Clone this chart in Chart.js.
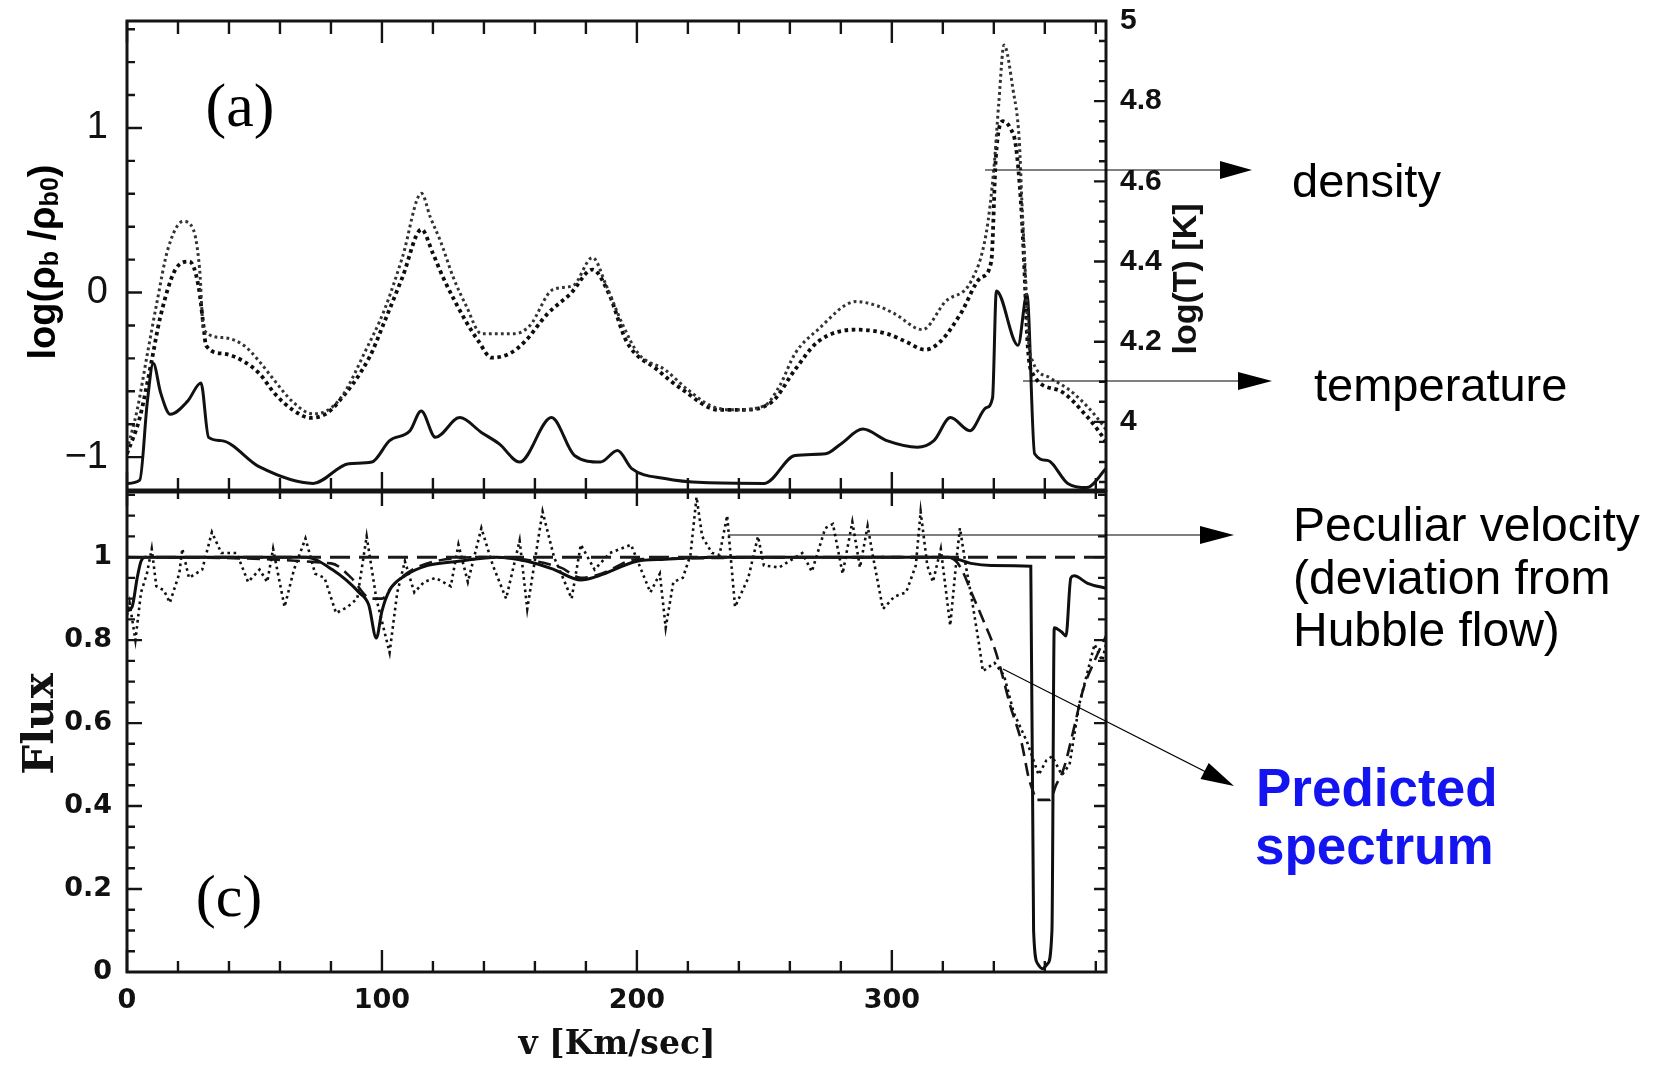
<!DOCTYPE html>
<html><head><meta charset="utf-8">
<script src="https://cdn.jsdelivr.net/npm/chart.js@4.4.1/dist/chart.umd.min.js"></script>
<style>
html,body{margin:0;padding:0;background:#fff;}
#wrap{position:relative;width:1663px;height:1065px;overflow:hidden;background:#fff;}
canvas{position:absolute;left:0;top:0;}
svg{position:absolute;left:0;top:0;}
</style></head><body>
<div id="wrap">
<canvas id="cBot" width="1663" height="1065"></canvas>
<canvas id="cTop" width="1663" height="500"></canvas>
<svg width="1663" height="1065" viewBox="0 0 1663 1065">
  <g stroke="#000" stroke-width="1.2" fill="none">
    <line x1="985" y1="170" x2="1222" y2="170"/>
    <line x1="1023" y1="381" x2="1240" y2="381"/>
    <line x1="728" y1="535" x2="1202" y2="535"/>
    <line x1="1003" y1="669" x2="1206" y2="772"/>
  </g>
  <g fill="#000">
    <polygon points="1252,170 1220,161 1220,179"/>
    <polygon points="1272,381 1238,372 1238,390"/>
    <polygon points="1234,535 1200,526 1200,544"/>
    <polygon points="1234,786 1200.5,779 1208.7,763"/>
  </g>
  <g font-family="Liberation Sans, Arial, sans-serif" fill="#000">
    <text x="1292" y="197" font-size="47">density</text>
    <text x="1314" y="401" font-size="47">temperature</text>
    <text x="1293" y="541" font-size="48">Peculiar velocity</text>
    <text x="1293" y="594" font-size="48">(deviation from</text>
    <text x="1293" y="646" font-size="48">Hubble flow)</text>
    <text x="1256" y="806" font-size="53" font-weight="bold" fill="#1414f0">Predicted</text>
    <text x="1255" y="864" font-size="53" font-weight="bold" fill="#1414f0">spectrum</text>
  </g>
  <g font-family="Liberation Serif, Times New Roman, serif" fill="#000">
    <text x="240" y="105" font-size="62" text-anchor="middle" dominant-baseline="central">(a)</text>
    <text x="229" y="896" font-size="60" text-anchor="middle" dominant-baseline="central">(c)</text>
  </g>
  <text transform="translate(42,262) rotate(-90)" text-anchor="middle" dominant-baseline="central" font-family="Liberation Sans, Arial, sans-serif" font-weight="bold" font-size="38" fill="#000">log(ρ<tspan font-size="25" dy="7">b</tspan><tspan dy="-7"> /ρ</tspan><tspan font-size="25" dy="7">b0</tspan><tspan dy="-7">)</tspan></text>
  <text transform="translate(1184,279) rotate(-90)" text-anchor="middle" dominant-baseline="central" font-family="Liberation Sans, Arial, sans-serif" font-weight="bold" font-size="34" fill="#111">log(T) [K]</text>
  <text transform="translate(38,724) rotate(-90)" text-anchor="middle" dominant-baseline="central" font-family="DejaVu Serif, serif" font-weight="bold" font-size="42" fill="#111">Flux</text>
  <text x="617" y="1042" text-anchor="middle" dominant-baseline="central" font-family="DejaVu Serif, serif" font-weight="bold" font-size="33" fill="#111">v [Km/sec]</text>
</svg>
</div>
<script>
// ---------------- DATA ----------------
// x axis: velocity v [km/s]
const xTickLabels = [0, 100, 200, 300];

// Panel (a): solid curve, log(rho_b/rho_b0) (left axis)
const vDensity = [0, 5, 8, 10.3, 13.2, 17, 23.8, 29, 32, 37, 52, 73, 87, 96, 103, 111, 115.4, 121, 130.5, 139, 146, 154, 166.5, 175.5, 185.7, 192.4, 198, 211, 226, 250, 262, 274, 280, 288.6, 298, 310, 316.5, 323, 330.6, 337, 339.5, 341, 349.5, 353, 356, 361, 369, 376.5, 384];
const logDensity = [-1.16, -1.14, -0.66, -0.43, -0.61, -0.74, -0.66, -0.55, -0.88, -0.90, -1.06, -1.16, -1.04, -1.03, -0.90, -0.84, -0.72, -0.88, -0.76, -0.85, -0.92, -1.03, -0.76, -0.99, -1.03, -0.96, -1.07, -1.13, -1.155, -1.16, -0.99, -0.98, -0.92, -0.83, -0.90, -0.94, -0.90, -0.76, -0.84, -0.70, -0.64, 0.01, -0.32, -0.01, -0.98, -1.02, -1.16, -1.185, -1.07];

// Panel (a): upper (fine) dotted curve, log T (right axis)
const vTempA = [0, 4, 8, 11.8, 16, 22, 26, 28.5, 30, 38, 46, 52, 57, 65, 73, 79, 85, 93, 101, 108, 115.5, 119, 123, 128, 133, 139, 146, 152, 158, 167, 175, 182.6, 188, 194.6, 200.6, 211, 220, 229, 238, 250, 256, 262, 271, 286, 294, 301, 312, 321, 331, 337, 340, 342, 344, 347.5, 350, 351, 352.6, 353.4, 355.3, 362, 371.5, 383, 384];
const logTempA = [3.93, 4.03, 4.17, 4.30, 4.43, 4.50, 4.48, 4.38, 4.23, 4.21, 4.19, 4.15, 4.11, 4.05, 4.02, 4.03, 4.07, 4.17, 4.28, 4.41, 4.57, 4.51, 4.45, 4.36, 4.29, 4.22, 4.22, 4.22, 4.24, 4.33, 4.34, 4.41, 4.34, 4.24, 4.17, 4.13, 4.08, 4.04, 4.03, 4.04, 4.09, 4.17, 4.23, 4.30, 4.29, 4.27, 4.23, 4.30, 4.35, 4.47, 4.63, 4.80, 4.94, 4.83, 4.70, 4.55, 4.34, 4.22, 4.15, 4.11, 4.07, 3.99, 3.98];

// Panel (a): lower (heavy) dotted curve, log T (right axis)
const vTempB = [0, 5, 9.6, 13, 19, 24.5, 28, 30, 31, 38, 46, 52, 58, 65, 72, 78, 83, 95, 101, 108, 115.5, 120, 124, 133, 138, 143, 150, 156, 165, 174, 182.6, 189, 196, 208, 218, 232, 241, 253, 262, 271, 286, 298, 305.5, 313, 319, 327, 335, 339, 340.8, 343.5, 346.7, 348.6, 350.6, 352, 353, 354.5, 365, 377, 383, 384];
const logTempB = [3.92, 4.01, 4.15, 4.26, 4.38, 4.40, 4.34, 4.24, 4.19, 4.17, 4.15, 4.12, 4.07, 4.03, 4.01, 4.02, 4.05, 4.16, 4.25, 4.36, 4.48, 4.42, 4.36, 4.25, 4.20, 4.16, 4.17, 4.20, 4.27, 4.32, 4.38, 4.32, 4.20, 4.13, 4.08, 4.03, 4.03, 4.05, 4.13, 4.20, 4.23, 4.22, 4.20, 4.18, 4.20, 4.27, 4.36, 4.40, 4.66, 4.75, 4.73, 4.69, 4.55, 4.38, 4.22, 4.13, 4.08, 4.01, 3.96, 3.95];

// Panel (c): flux, solid curve
const vFluxSolid = [0, 2, 4, 5.5, 7, 40, 70, 80.5, 91, 94.8, 97.8, 100, 103, 109, 118, 130, 145, 157, 167.5, 178, 185, 200, 211, 230, 322, 331, 339, 354.5, 355.6, 357.2, 359.1, 361.1, 362.8, 363.7, 366.5, 368.3, 370.2, 371.5, 376.8, 384];
const fluxSolid = [0.87, 0.88, 0.95, 0.99, 1.0, 1.0, 1.0, 0.97, 0.915, 0.885, 0.805, 0.87, 0.92, 0.955, 0.98, 0.99, 1.0, 0.99, 0.97, 0.945, 0.955, 0.99, 0.995, 1.0, 1.0, 0.985, 0.98, 0.978, 0.10, 0.02, 0.008, 0.02, 0.10, 0.83, 0.82, 0.81, 0.95, 0.955, 0.937, 0.925];

// Panel (c): flux, dashed model curve
const vFluxModel = [0, 80, 88, 94, 96, 100, 104, 112, 125, 140, 170, 178, 186, 200, 320, 325.2, 328.2, 331.2, 335.7, 340.3, 342.5, 346.3, 350.8, 353.8, 355.7, 356.5, 362, 364.4, 367.4, 371.9, 375, 379.5, 384];
const fluxModel = [1.0, 0.985, 0.95, 0.905, 0.90, 0.90, 0.93, 0.97, 0.995, 1.0, 0.975, 0.95, 0.96, 0.995, 1.0, 0.99, 0.96, 0.915, 0.85, 0.78, 0.735, 0.645, 0.555, 0.465, 0.43, 0.415, 0.415, 0.45, 0.49, 0.60, 0.68, 0.75, 0.81];

// Panel (c): flux, dotted (noisy) curve
const vFluxDotted = [0, 1, 3.3, 5.5, 7.8, 9.7, 11.5, 14.5, 16.8, 20.5, 21.7, 24.3, 29.5, 33.3, 37, 43, 47.5, 52, 55, 57.3, 61.8, 65.5, 70, 73.8, 77.5, 82, 86.5, 90.3, 94, 97.8, 103, 106, 109, 112.7, 116.5, 121, 127, 130, 133.7, 139, 143.5, 148.7, 154, 157, 163, 167.5, 171, 174.4, 178, 183.4, 189.4, 197.7, 202.3, 205.3, 209, 211.3, 214.3, 218, 221, 223.4, 225.6, 229.4, 232.4, 235.4, 238.5, 243.7, 247.5, 249.8, 255.8, 264.9, 268.6, 273.9, 276.9, 280.7, 284.5, 287.5, 290.5, 292.8, 296.5, 301, 305.6, 309.4, 311.3, 313.9, 316.1, 319.2, 322.9, 325.2, 326.7, 329, 331.2, 334.2, 335.7, 340.3, 344, 347.8, 353, 357.6, 360.6, 362.9, 366.7, 369.7, 373.5, 376.5, 379.5, 382.5, 384];
const fluxDotted = [0.86, 0.89, 0.80, 0.915, 0.96, 1.02, 0.93, 0.92, 0.89, 0.96, 1.02, 0.95, 0.97, 1.06, 1.01, 1.01, 0.94, 0.97, 0.94, 1.02, 0.88, 0.97, 1.045, 0.96, 0.95, 0.865, 0.88, 0.90, 1.05, 0.90, 0.77, 0.915, 0.99, 0.915, 0.94, 0.95, 0.93, 1.03, 0.94, 1.07, 0.98, 0.90, 1.04, 0.875, 1.11, 1.0, 0.95, 0.90, 1.03, 0.97, 1.01, 1.03, 0.96, 0.915, 0.96, 0.83, 0.94, 0.95, 1.005, 1.145, 1.05, 1.01, 1.005, 1.10, 0.88, 0.95, 1.05, 0.98, 0.975, 1.01, 0.965, 1.07, 1.08, 0.96, 1.085, 0.975, 1.075, 0.995, 0.875, 0.905, 0.915, 0.98, 1.11, 0.98, 0.94, 1.02, 0.835, 0.985, 1.07, 0.98, 0.905, 0.79, 0.725, 0.745, 0.715, 0.625, 0.555, 0.475, 0.51, 0.52, 0.475, 0.50, 0.645, 0.717, 0.79, 0.75, 0.79];

// Panel (c): continuum reference (dashed horizontal)
const vContinuum = [0, 384];
const fluxContinuum = [1, 1];

// ---------------- HELPERS ----------------
const pts = (xs, ys) => xs.map((x, i) => ({x: x, y: ys[i]}));
const minusFmt = v => String(Number(Number(v).toFixed(2))).replace('-', '\u2212');
const zeroPad = s => { s.paddingTop = 0; s.paddingBottom = 0; s.paddingLeft = 0; s.paddingRight = 0; };

function framePlugin(cfg) {
  return {
    id: 'frame' + cfg.name,
    afterDatasetsDraw(chart) {
      const ctx = chart.ctx, a = chart.chartArea, sx = chart.scales.x;
      ctx.save();
      ctx.strokeStyle = '#141414';
      ctx.lineWidth = 2.4;
      ctx.beginPath();
      for (let i = 0; i * 20 <= 384; i++) {
        const v = i * 20;
        const px = sx.getPixelForValue(v);
        const major = v % 100 === 0;
        ctx.moveTo(px, a.bottom); ctx.lineTo(px, a.bottom - (major ? cfg.xb[0] : cfg.xb[1]));
        ctx.moveTo(px, a.top); ctx.lineTo(px, a.top + (major ? cfg.xt[0] : cfg.xt[1]));
      }
      cfg.y.forEach(ax => {
        const s = chart.scales[ax.id];
        for (let i = ax.i0; i <= ax.i1; i++) {
          const v = i * ax.minor;
          const py = s.getPixelForValue(v);
          if (py < a.top + 1 || py > a.bottom - 1) continue;
          const r = v / ax.major;
          const major = Math.abs(r - Math.round(r)) < 1e-6;
          const len = major ? ax.len[0] : ax.len[1];
          if (ax.side === 'left') { ctx.moveTo(a.left, py); ctx.lineTo(a.left + len, py); }
          else { ctx.moveTo(a.right, py); ctx.lineTo(a.right - len, py); }
        }
      });
      ctx.stroke();
      ctx.lineWidth = 3;
      ctx.strokeRect(a.left, a.top, a.right - a.left, a.bottom - a.top);
      ctx.restore();
    }
  };
}

Chart.defaults.animation = false;
Chart.defaults.color = '#111';

// ---------------- TOP PANEL (a) ----------------
new Chart(document.getElementById('cTop'), {
  type: 'line',
  data: {
    datasets: [
      { data: pts(vTempA, logTempA), yAxisID: 'yT', borderColor: '#333', borderWidth: 3, borderDash: [2.8, 3.2], pointRadius: 0, cubicInterpolationMode: 'monotone', fill: false },
      { data: pts(vTempB, logTempB), yAxisID: 'yT', borderColor: '#0d0d0d', borderWidth: 3.8, borderDash: [3.6, 3.6], pointRadius: 0, cubicInterpolationMode: 'monotone', fill: false },
      { data: pts(vDensity, logDensity), yAxisID: 'yD', borderColor: '#111', borderWidth: 3, pointRadius: 0, cubicInterpolationMode: 'monotone', fill: false }
    ]
  },
  options: {
    responsive: false,
    layout: { padding: { left: 47, right: 477, top: 21, bottom: 10 } },
    plugins: { legend: { display: false }, tooltip: { enabled: false } },
    events: [],
    scales: {
      x: { type: 'linear', min: 0, max: 384, grid: { display: false }, border: { display: false },
           ticks: { display: false }, afterFit: s => { s.height = 0; zeroPad(s); } },
      yD: { type: 'linear', position: 'left', min: -1.2, max: 1.65,
            grid: { display: false, drawTicks: false }, border: { display: false },
            ticks: { stepSize: 1, includeBounds: false, padding: 19, callback: minusFmt,
                     font: { family: 'Liberation Sans', size: 38 }, color: '#111' },
            afterFit: s => { s.width = 80; zeroPad(s); } },
      yT: { type: 'linear', position: 'right', min: 3.83, max: 5,
            grid: { display: false, drawTicks: false }, border: { display: false },
            ticks: { stepSize: 0.2, includeBounds: false, padding: 14, callback: minusFmt,
                     font: { family: 'Liberation Sans', size: 30, weight: 'bold' }, color: '#111' },
            afterFit: s => { s.width = 80; zeroPad(s); } }
    }
  },
  plugins: [framePlugin({ name: 'Top', xb: [18, 12], xt: [22, 13],
    y: [ { id: 'yD', side: 'left', minor: 0.2, major: 1, i0: -6, i1: 8, len: [15, 8] },
         { id: 'yT', side: 'right', minor: 0.05, major: 0.2, i0: 77, i1: 100, len: [12, 7] } ] })]
});

// ---------------- BOTTOM PANEL (c) ----------------
new Chart(document.getElementById('cBot'), {
  type: 'line',
  data: {
    datasets: [
      { data: pts(vContinuum, fluxContinuum), yAxisID: 'yF', borderColor: '#1a1a1a', borderWidth: 3, borderDash: [20, 9], pointRadius: 0, tension: 0, fill: false },
      { data: pts(vFluxDotted, fluxDotted), yAxisID: 'yF', borderColor: '#111', borderWidth: 2.6, borderDash: [2.6, 3.6], pointRadius: 0, tension: 0, fill: false },
      { data: pts(vFluxModel, fluxModel), yAxisID: 'yF', borderColor: '#151515', borderWidth: 2.6, borderDash: [13, 7], pointRadius: 0, cubicInterpolationMode: 'monotone', fill: false },
      { data: pts(vFluxSolid, fluxSolid), yAxisID: 'yF', borderColor: '#0f0f0f', borderWidth: 3, pointRadius: 0, cubicInterpolationMode: 'monotone', fill: false }
    ]
  },
  options: {
    responsive: false,
    layout: { padding: { left: 47, right: 557, top: 492, bottom: 13 } },
    plugins: { legend: { display: false }, tooltip: { enabled: false } },
    events: [],
    scales: {
      x: { type: 'linear', min: 0, max: 384, grid: { display: false, drawTicks: false }, border: { display: false },
           ticks: { stepSize: 100, includeBounds: false, padding: 13, maxRotation: 0,
                    callback: v => (xTickLabels.indexOf(v) >= 0 ? String(v) : ''),
                    font: { family: 'DejaVu Sans', size: 27, weight: 'bold' }, color: '#111' },
           afterFit: s => { s.height = 80; zeroPad(s); } },
      yF: { type: 'linear', position: 'left', min: 0, max: 1.157,
            grid: { display: false, drawTicks: false }, border: { display: false },
            ticks: { stepSize: 0.2, includeBounds: false, padding: 15, callback: minusFmt,
                     font: { family: 'DejaVu Sans', size: 27, weight: 'bold' }, color: '#111' },
            afterFit: s => { s.width = 80; zeroPad(s); } }
    }
  },
  plugins: [framePlugin({ name: 'Bot', xb: [22, 11], xt: [14, 7],
    y: [ { id: 'yF', side: 'left', minor: 0.05, major: 0.2, i0: 0, i1: 23, len: [15, 8] },
         { id: 'yF', side: 'right', minor: 0.05, major: 0.2, i0: 0, i1: 23, len: [12, 8] } ] })]
});
</script>
</body></html>
